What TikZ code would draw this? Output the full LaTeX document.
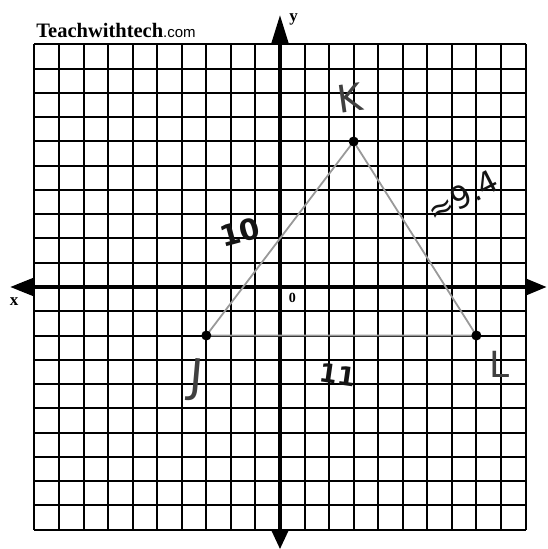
\documentclass[tikz,border=0pt]{standalone}
\usepackage{fontspec}
\setmainfont{Liberation Serif}
\newfontfamily\webfont{Liberation Sans}
\newfontfamily\hand{DejaVu Sans}
\begin{document}
\begin{tikzpicture}[x=24.55pt,y=24.25pt,
  gridline/.style={line width=2pt,black},
  axisline/.style={line width=4.8pt,black},
  tip/.style={fill=black,draw=none},
  side/.style={line width=1.8pt,color=black!40},
  vdot/.style={circle,fill=black,inner sep=0pt,minimum size=10pt},
  handlbl/.style={text=black!75,inner sep=0pt},
  lenlbl/.style={text=black!92,inner sep=0pt},
  axlbl/.style={font=\bfseries\fontsize{17}{17}\selectfont,inner sep=0pt}]
\useasboundingbox (-11.405,-10.804) rectangle (10.876,11.835);
% grid
\foreach \i in {-10,...,10} {
  \draw[gridline] (\i,-10) -- (\i,10);
  \draw[gridline] (-10,\i) -- (10,\i);
}
% axes
\draw[axisline] (0,-10) -- (0,10);
\draw[axisline] (-10,0) -- (10,0);
\fill[tip] (-0.37,10) -- (0,11.2) -- (0.37,10) -- cycle;
\fill[tip] (-0.37,-10) -- (0,-10.8) -- (0.37,-10) -- cycle;
\fill[tip] (-10,0.4) -- (-10.98,0) -- (-10,-0.4) -- cycle;
\fill[tip] (10,0.36) -- (10.85,0) -- (10,-0.36) -- cycle;
% axis labels
\node[axlbl] (ylab) at (0.55,11.05) {y};
\node[axlbl] (xlab) at (-10.83,-0.6) {x};
\node[font=\bfseries\fontsize{14}{14}\selectfont,inner sep=0pt] (orig) at (0.5,-0.45) {0};
% title
\node[anchor=base west,inner sep=0pt] (brand) at (-9.93,10.27)
  {\fontsize{20.5}{20.5}\selectfont\bfseries Teachwithtech\webfont\mdseries\fontsize{15}{15}\selectfont .com};
% triangle
\coordinate (J) at (-3,-2);
\coordinate (K) at (3,6);
\coordinate (L) at (8,-2);
\draw[side] (J) -- (K) -- (L) -- (J);
\node[vdot] (Jd) at (J) {};
\node[vdot] (Kd) at (K) {};
\node[vdot] (Ld) at (L) {};
% hand labels
\node[handlbl,rotate=8,font=\hand\fontsize{38}{38}\selectfont] (Klab) at (2.85,7.8) {K};
\node[handlbl,rotate=-5,font=\hand\fontsize{46}{46}\selectfont] (Jlab) at (-3.4,-3.85) {J};
\node[handlbl,font=\hand\fontsize{36}{36}\selectfont] (Llab) at (8.95,-3.2) {L};
\node[lenlbl,rotate=15,font=\hand\bfseries\fontsize{29}{29}\selectfont] (JK) at (-1.63,2.27) {10};
\node[lenlbl,rotate=-8,font=\hand\bfseries\fontsize{26}{26}\selectfont] (JL) at (2.36,-3.62) {11};
\node[lenlbl,rotate=27,font=\hand\fontsize{31}{31}\selectfont] (KL) at (7.45,3.75) {≈9.4};
\end{tikzpicture}
\end{document}
